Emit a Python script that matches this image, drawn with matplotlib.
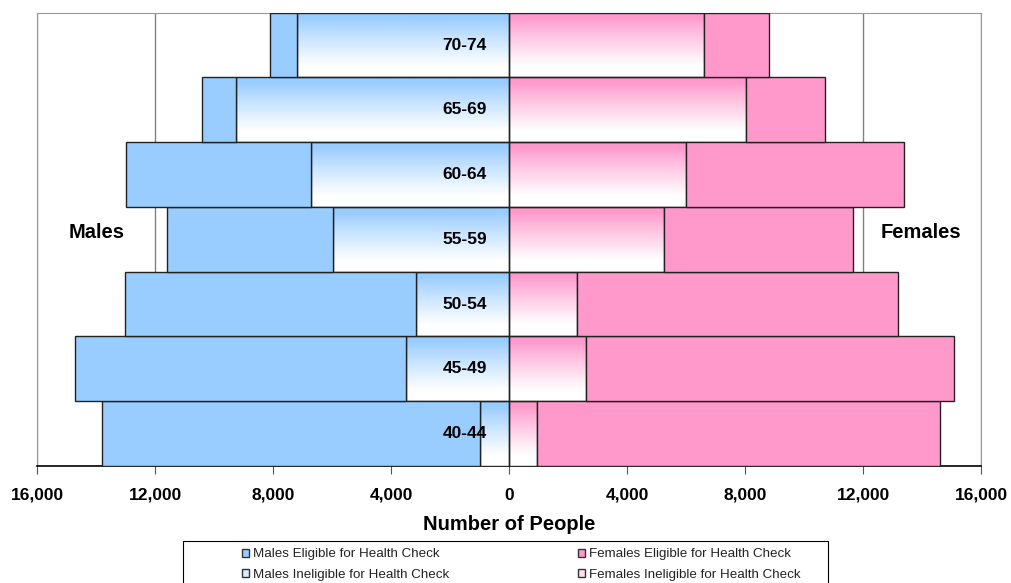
import numpy as np
import matplotlib
matplotlib.use("Agg")
import matplotlib.pyplot as plt
from matplotlib.patches import Patch, Rectangle
from matplotlib.ticker import FuncFormatter
from matplotlib.colors import to_rgb

plt.rcParams['font.family'] = ['Liberation Sans', 'DejaVu Sans']

# age groups, bottom to top
ages = ["40-44", "45-49", "50-54", "55-59", "60-64", "65-69", "70-74"]

# people per group
males_ineligible = [1000, 3500, 3150, 5950, 6700, 9250, 7200]
males_eligible = [12800, 11200, 9850, 5650, 6300, 1150, 900]
females_ineligible = [950, 2600, 2300, 5250, 6000, 8050, 6600]
females_eligible = [13650, 12500, 10900, 6400, 7400, 2650, 2200]

blue = "#99CCFF"
pink = "#FF99CC"
edge = "#222222"

fig = plt.figure(figsize=(10.11, 5.83), dpi=100)
ax = fig.add_axes([37 / 1011, 1 - 466 / 583, 944 / 1011, (466 - 12.7) / 583])

y = np.arange(len(ages))


def gradient_bar(ax, left, width, yc, color):
    # inner bars: colour at the top fading to white at the bottom
    rect = ax.barh(yc, width, left=left, height=1.0, facecolor="none",
                   edgecolor=edge, linewidth=1, zorder=4)[0]
    t = np.linspace(0, 1, 100)[:, None]
    mix = np.clip((t - 0.08) / 0.75, 0, 1) ** 0.9
    c = np.array(to_rgb(color))
    img = c[None, None, :] * (1 - mix[:, :, None]) + np.ones(3)[None, None, :] * mix[:, :, None]
    x0, x1 = sorted([left, left + width])
    im = ax.imshow(img, extent=[x0, x1, yc - 0.5, yc + 0.5], aspect="auto",
                   origin="upper", zorder=3, interpolation="bilinear")
    im.set_clip_path(rect)


for i in y:
    gradient_bar(ax, 0, -males_ineligible[i], i, blue)
    gradient_bar(ax, 0, females_ineligible[i], i, pink)

ax.barh(y, [-v for v in males_eligible], left=[-v for v in males_ineligible],
        height=1.0, color=blue, edgecolor=edge, linewidth=1, zorder=4)
ax.barh(y, females_eligible, left=females_ineligible,
        height=1.0, color=pink, edgecolor=edge, linewidth=1, zorder=4)

for i, a in enumerate(ages):
    ax.annotate(a, (0, i), xytext=(-16, 0), textcoords="offset points",
                ha="right", va="center", fontsize=12.5, fontweight="bold", zorder=6)

ax.text(-13980, 3.11, "Males", ha="center", va="center", fontsize=14.5, fontweight="bold")
ax.text(13980, 3.11, "Females", ha="center", va="center", fontsize=14.5, fontweight="bold")

ax.set_xlim(-16000, 16000)
ax.set_ylim(-0.5, len(ages) - 0.5)
ax.set_xticks(np.arange(-16000, 16001, 4000))
ax.xaxis.set_major_formatter(FuncFormatter(lambda v, p: f"{abs(int(v)):,}"))
ax.set_yticks([])
ax.tick_params(axis="x", direction="out", length=6, color="#555555", pad=9.5,
               labelsize=12.5)
for lab in ax.get_xticklabels():
    lab.set_fontweight("bold")
ax.grid(axis="x", color="#808080", linewidth=1, zorder=0)
ax.set_axisbelow(True)
ax.set_xlabel("Number of People", fontsize=14.5, fontweight="bold", labelpad=9)

for s in ["left", "top", "right"]:
    ax.spines[s].set_color("#999999")
ax.spines["bottom"].set_color("black")
ax.spines["bottom"].set_linewidth(1.2)

# legend box
fig.patches.append(Rectangle((183 / 1011, -0.05), (828 - 183) / 1011, 0.05 + 1 - 541 / 583,
                             transform=fig.transFigure, facecolor="white",
                             edgecolor="black", linewidth=0.8))
male_handles = [Patch(facecolor=blue, edgecolor="#333333", label="Males Eligible for Health Check"),
                Patch(facecolor="#D9ECFF", edgecolor="#333333", label="Males Ineligible for Health Check")]
female_handles = [Patch(facecolor=pink, edgecolor="#333333", label="Females Eligible for Health Check"),
                  Patch(facecolor="#FFDDEE", edgecolor="#333333", label="Females Ineligible for Health Check")]
kw = dict(frameon=False, fontsize=9.6, handlelength=0.55, handleheight=0.55,
          handletextpad=0.25, labelspacing=0.62, loc="upper left", borderpad=0,
          borderaxespad=0, labelcolor="#222222")
fig.legend(handles=male_handles, bbox_to_anchor=(242 / 1011, 1 - 548.5 / 583), **kw)
fig.legend(handles=female_handles, bbox_to_anchor=(578 / 1011, 1 - 548.5 / 583), **kw)

fig.savefig("out.png", dpi=100)
